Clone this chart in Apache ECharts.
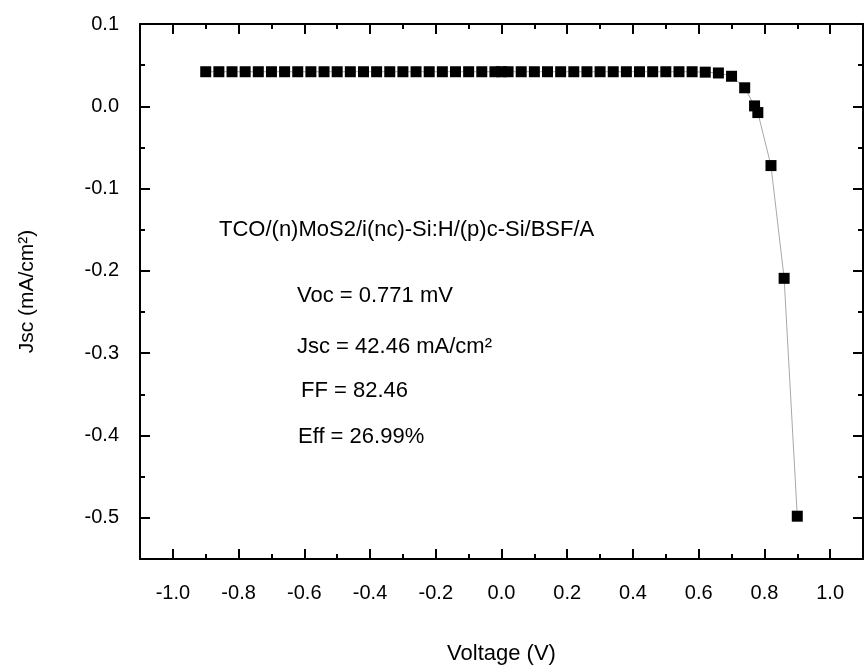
<!DOCTYPE html>
<html>
<head>
<meta charset="utf-8">
<script src="https://cdn.jsdelivr.net/npm/echarts@6/dist/echarts.min.js"></script>
<style>
html,body{margin:0;padding:0;background:#fff;}
#chart{width:865px;height:670px;}
</style>
</head>
<body>
<div id="chart"></div>
<script>
// ---- data ----
var voltage = [-0.90,-0.86,-0.82,-0.78,-0.74,-0.70,-0.66,-0.62,-0.58,-0.54,-0.50,-0.46,-0.42,-0.38,-0.34,-0.30,-0.26,-0.22,-0.18,-0.14,-0.10,-0.06,-0.02,0.00,
  0.02,0.06,0.10,0.14,0.18,0.22,0.26,0.30,0.34,0.38,0.42,0.46,0.50,0.54,0.58,0.62,0.66,0.70,0.74,0.77,0.78,0.82,0.86,0.90];
var jsc = [0.042,0.042,0.042,0.042,0.042,0.042,0.042,0.042,0.042,0.042,0.042,0.042,0.042,0.042,0.042,0.042,0.042,0.042,0.042,0.042,0.042,0.042,0.042,0.042,
  0.042,0.042,0.042,0.042,0.042,0.042,0.042,0.042,0.042,0.042,0.042,0.042,0.042,0.042,0.042,0.0415,0.0405,0.0365,0.0225,0.0005,-0.0076,-0.072,-0.209,-0.498];
var xTickLabels = [-1.0,-0.8,-0.6,-0.4,-0.2,0.0,0.2,0.4,0.6,0.8,1.0];
var yTickLabels = [0.1,0.0,-0.1,-0.2,-0.3,-0.4,-0.5];
var annotations = ['TCO/(n)MoS2/i(nc)-Si:H/(p)c-Si/BSF/A','Voc = 0.771 mV','Jsc = 42.46 mA/cm\u00b2','FF = 82.46','Eff = 26.99%'];
var xName = 'Voltage (V)';
var yName = 'Jsc (mA/cm\u00b2)';

// ---- chart ----
var FONT = '"Liberation Sans", Arial, sans-serif';
var lineStyle = {color:'#000', width:2};
function xAx(pos, major, showLine, showLabel) {
  return {
    type:'value', position:pos, min:-1.1, max:1.1, interval:0.1,
    axisLine:{show:showLine, onZero:false, lineStyle:lineStyle},
    axisTick:major ? {show:true, inside:true, length:10, lineStyle:{color:'#000',width:2}, customValues:xTickLabels}
                   : {show:true, inside:true, length:5, lineStyle:{color:'#000',width:2}},
    axisLabel:showLabel ? {show:true, customValues:xTickLabels, margin:24, color:'#000', fontSize:20, fontFamily:FONT,
                  formatter:function(v){return (+v).toFixed(1);}} : {show:false},
    splitLine:{show:false},
    name: showLabel ? xName : '',
    nameLocation:'middle', nameGap:84,
    nameTextStyle:{color:'#000', fontSize:22, fontFamily:FONT}
  };
}
function yAx(pos, major, showLine, showLabel) {
  return {
    type:'value', position:pos, min:-0.55, max:0.1, interval:0.05,
    axisLine:{show:showLine, onZero:false, lineStyle:lineStyle},
    axisTick:major ? {show:true, inside:true, length:10, lineStyle:{color:'#000',width:2}, customValues:yTickLabels}
                   : {show:true, inside:true, length:5, lineStyle:{color:'#000',width:2}},
    axisLabel:showLabel ? {show:true, customValues:yTickLabels, margin:21, color:'#000', fontSize:20, fontFamily:FONT,
                  formatter:function(v){var s=(+v).toFixed(1); return s==='-0.0'?'0.0':s;}} : {show:false},
    splitLine:{show:false},
    name: showLabel ? yName : '',
    nameLocation:'middle', nameGap:102, nameRotate:90,
    nameTextStyle:{color:'#000', fontSize:21, fontFamily:FONT}
  };
}
var points = voltage.map(function(v,i){return [v, jsc[i]];});
var chart = echarts.init(document.getElementById('chart'), null, {renderer:'canvas'});
chart.setOption({
  animation:false,
  backgroundColor:'#fff',
  grid:{left:140, right:2, top:24, bottom:107, containLabel:false},
  xAxis:[xAx('bottom',false,true,true), xAx('bottom',true,false,false), xAx('top',false,true,false), xAx('top',true,false,false)],
  yAxis:[yAx('left',false,true,true), yAx('left',true,false,false), yAx('right',false,true,false), yAx('right',true,false,false)],
  series:[{
    type:'line', xAxisIndex:0, yAxisIndex:0, data:points,
    symbol:'rect', symbolSize:11, showSymbol:true,
    itemStyle:{color:'#000', borderWidth:0},
    lineStyle:{color:'#a8a8a8', width:1},
    clip:false
  }],
  graphic:[
    {type:'text', left:219, top:219, style:{text:annotations[0], fill:'#000', font:'22px '+FONT}},
    {type:'text', left:297, top:285, style:{text:annotations[1], fill:'#000', font:'22px '+FONT}},
    {type:'text', left:297, top:336, style:{text:annotations[2], fill:'#000', font:'22px '+FONT}},
    {type:'text', left:301, top:380, style:{text:annotations[3], fill:'#000', font:'22px '+FONT}},
    {type:'text', left:298, top:426, style:{text:annotations[4], fill:'#000', font:'22px '+FONT}}
  ]
});
</script>
</body>
</html>
